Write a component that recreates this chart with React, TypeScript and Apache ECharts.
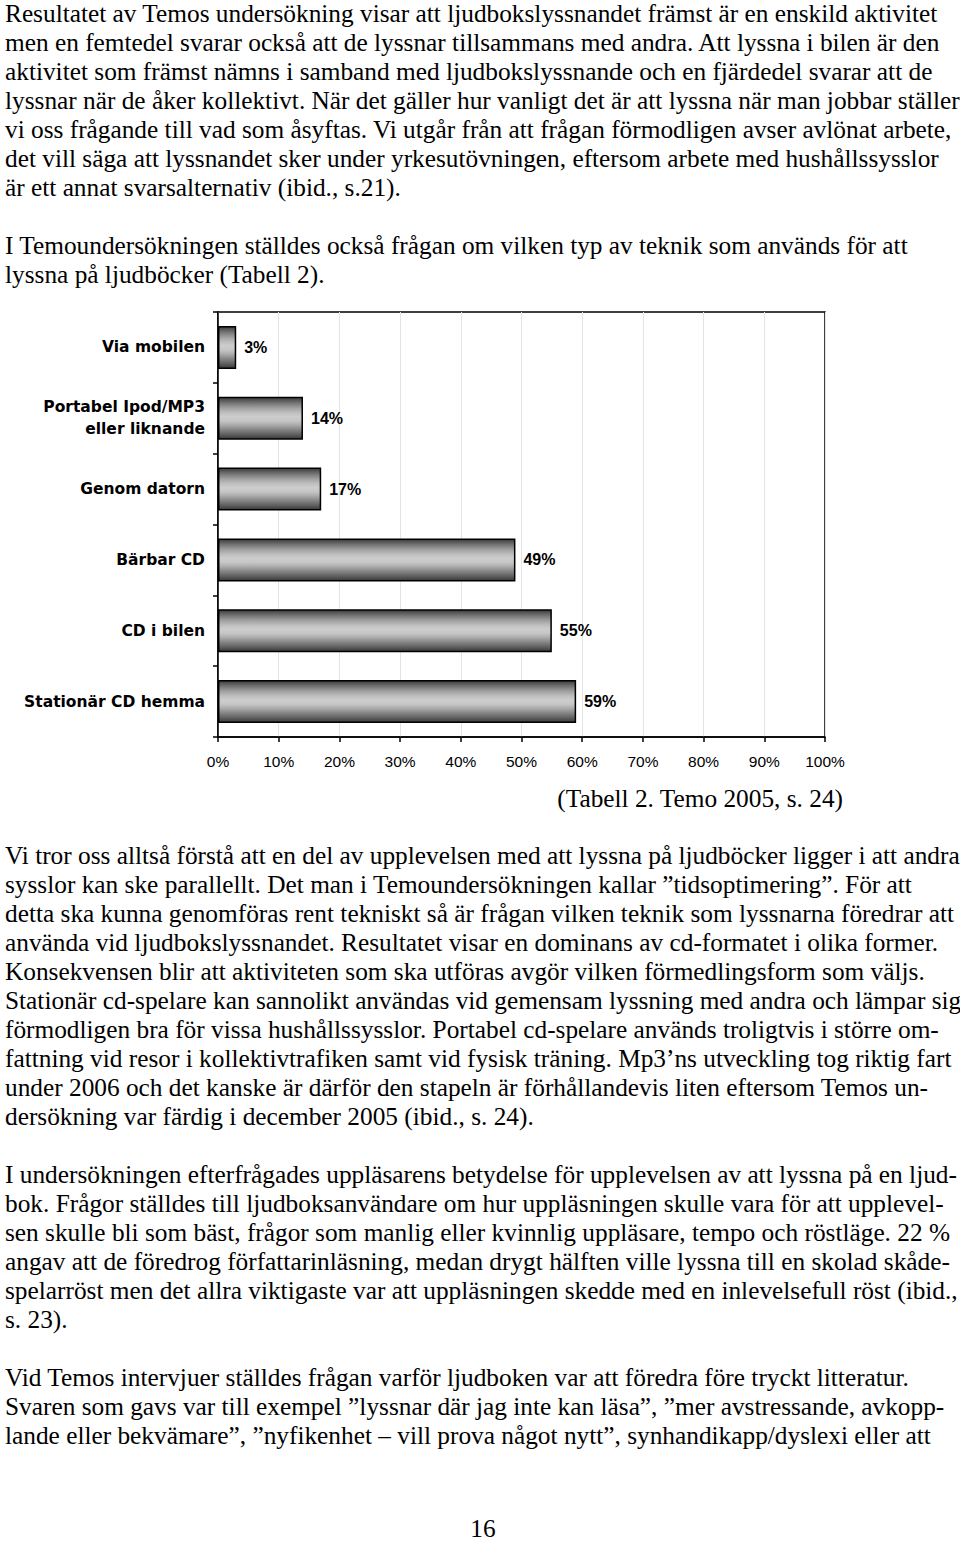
import React, { useEffect, useRef } from "react";
import * as echarts from "echarts";

// ---------- Chart data ----------
const categories = [
  "Via mobilen",
  "Portabel Ipod/MP3\neller liknande",
  "Genom datorn",
  "Bärbar CD",
  "CD i bilen",
  "Stationär CD hemma",
];
const shares = [3, 14, 17, 49, 55, 59];
const axisMin = 0;
const axisMax = 100;
const axisStep = 10;

// ---------- Page text ----------
const para1 = [
  "Resultatet av Temos undersökning visar att ljudbokslyssnandet främst är en enskild aktivitet",
  "men en femtedel svarar också att de lyssnar tillsammans med andra. Att lyssna i bilen är den",
  "aktivitet som främst nämns i samband med ljudbokslyssnande och en fjärdedel svarar att de",
  "lyssnar när de åker kollektivt. När det gäller hur vanligt det är att lyssna när man jobbar ställer",
  "vi oss frågande till vad som åsyftas. Vi utgår från att frågan förmodligen avser avlönat arbete,",
  "det vill säga att lyssnandet sker under yrkesutövningen, eftersom arbete med hushållssysslor",
  "är ett annat svarsalternativ (ibid., s.21).",
];
const para2 = [
  "I Temoundersökningen ställdes också frågan om vilken typ av teknik som används för att",
  "lyssna på ljudböcker (Tabell 2).",
];
const para3 = [
  "Vi tror oss alltså förstå att en del av upplevelsen med att lyssna på ljudböcker ligger i att andra",
  "sysslor kan ske parallellt. Det man i Temoundersökningen kallar ”tidsoptimering”. För att",
  "detta ska kunna genomföras rent tekniskt så är frågan vilken teknik som lyssnarna föredrar att",
  "använda vid ljudbokslyssnandet. Resultatet visar en dominans av cd-formatet i olika former.",
  "Konsekvensen blir att aktiviteten som ska utföras avgör vilken förmedlingsform som väljs.",
  "Stationär cd-spelare kan sannolikt användas vid gemensam lyssning med andra och lämpar sig",
  "förmodligen bra för vissa hushållssysslor. Portabel cd-spelare används troligtvis i större om-",
  "fattning vid resor i kollektivtrafiken samt vid fysisk träning. Mp3’ns utveckling tog riktig fart",
  "under 2006 och det kanske är därför den stapeln är förhållandevis liten eftersom Temos un-",
  "dersökning var färdig i december 2005 (ibid., s. 24).",
];
const para4 = [
  "I undersökningen efterfrågades uppläsarens betydelse för upplevelsen av att lyssna på en ljud-",
  "bok. Frågor ställdes till ljudboksanvändare om hur uppläsningen skulle vara för att upplevel-",
  "sen skulle bli som bäst, frågor som manlig eller kvinnlig uppläsare, tempo och röstläge. 22 %",
  "angav att de föredrog författarinläsning, medan drygt hälften ville lyssna till en skolad skåde-",
  "spelarröst men det allra viktigaste var att uppläsningen skedde med en inlevelsefull röst (ibid.,",
  "s. 23).",
];
const para5 = [
  "Vid Temos intervjuer ställdes frågan varför ljudboken var att föredra före tryckt litteratur.",
  "Svaren som gavs var till exempel ”lyssnar där jag inte kan läsa”, ”mer avstressande, avkopp-",
  "lande eller bekvämare”, ”nyfikenhet – vill prova något nytt”, synhandikapp/dyslexi eller att",
];
const sourceNote = "(Tabell 2. Temo 2005, s. 24)";
const pageNumber = "16";

// ---------- Layout ----------
const PAGE_W = 960;
const PAGE_H = 1543;
const SERIF = "Liberation Serif";
const SANS = "Liberation Sans";
const SANS_WIDE = "DejaVu Sans";
const BODY_SIZE = 25;
const LINE_GAP = 29;
const TEXT_LEFT = 5;
const paragraphs: { lines: string[]; top: number }[] = [
  { lines: para1, top: 14 },
  { lines: para2, top: 246 },
  { lines: para3, top: 856 },
  { lines: para4, top: 1175 },
  { lines: para5, top: 1378 },
];

function measure(text: string, font: string): number {
  const c = document.createElement("canvas");
  const ctx = c.getContext("2d");
  if (!ctx) return text.length * 10;
  ctx.font = font;
  return ctx.measureText(text).width;
}

export default function App() {
  const ref = useRef<HTMLDivElement>(null);

  useEffect(() => {
    if (!ref.current) return;
    const chart = echarts.init(ref.current, undefined, { renderer: "svg" });

    const sx = 933 / measure(para1[0], `${BODY_SIZE}px ${SERIF}`);

    const bodyStyle = (text: string, align: string) => ({
      text,
      fontFamily: SERIF,
      fontSize: BODY_SIZE,
      fill: "#000",
      align,
      verticalAlign: "middle",
    });

    const graphics: any[] = [];
    paragraphs.forEach((p) => {
      p.lines.forEach((line, i) => {
        graphics.push({
          type: "text",
          x: TEXT_LEFT,
          y: p.top + i * LINE_GAP,
          scaleX: sx,
          style: bodyStyle(line, "left"),
        });
      });
    });
    graphics.push({
      type: "text",
      x: 843,
      y: 799,
      scaleX: sx,
      style: bodyStyle(sourceNote, "right"),
    });
    graphics.push({
      type: "text",
      x: 483,
      y: 1529,
      scaleX: sx,
      style: bodyStyle(pageNumber, "center"),
    });

    const barFill = new echarts.graphic.LinearGradient(0, 0, 0, 1, [
      { offset: 0, color: "#3a3a3a" },
      { offset: 0.08, color: "#5e5e5e" },
      { offset: 0.16, color: "#7e7e7e" },
      { offset: 0.26, color: "#a2a2a2" },
      { offset: 0.36, color: "#bdbdbd" },
      { offset: 0.46, color: "#cdcdcd" },
      { offset: 0.56, color: "#c6c6c6" },
      { offset: 0.66, color: "#acacac" },
      { offset: 0.76, color: "#8a8a8a" },
      { offset: 0.86, color: "#6a6a6a" },
      { offset: 0.94, color: "#4e4e4e" },
      { offset: 1, color: "#383838" },
    ]);

    chart.setOption({
      animation: false,
      backgroundColor: "#fff",
      grid: {
        left: 218,
        top: 312,
        width: 607,
        height: 425,
        show: true,
        borderColor: "#000",
        borderWidth: 1.5,
        backgroundColor: "transparent",
      },
      xAxis: {
        type: "value",
        min: axisMin,
        max: axisMax,
        interval: axisStep,
        axisLine: { show: true, lineStyle: { color: "#000", width: 1.5 } },
        axisTick: { show: true, inside: false, length: 5, lineStyle: { color: "#000", width: 1.5 } },
        axisLabel: {
          formatter: "{value}%",
          color: "#000",
          fontFamily: SANS,
          fontSize: 15.5,
          margin: 16,
        },
        splitLine: { show: true, lineStyle: { color: "#e4e4e4", width: 1 } },
      },
      yAxis: {
        type: "category",
        data: categories,
        inverse: true,
        axisLine: { show: true, lineStyle: { color: "#000", width: 1.5 } },
        axisTick: { show: true, inside: false, length: 5, lineStyle: { color: "#000", width: 1.5 } },
        axisLabel: {
          color: "#000",
          fontFamily: SANS_WIDE,
          fontWeight: "bold",
          fontSize: 15.5,
          lineHeight: 22,
          margin: 13,
          align: "right",
        },
        splitLine: { show: false },
      },
      series: [
        {
          type: "bar",
          data: shares,
          barWidth: 43,
          itemStyle: { color: barFill, borderColor: "#000", borderWidth: 1.5 },
          label: {
            show: true,
            position: "right",
            distance: 8,
            formatter: "{c}%",
            color: "#000",
            fontFamily: SANS,
            fontWeight: "bold",
            fontSize: 16,
          },
        },
      ],
      graphic: graphics,
    });

    return () => chart.dispose();
  }, []);

  return (
    <div
      ref={ref}
      style={{ position: "absolute", left: 0, top: 0, width: PAGE_W, height: PAGE_H }}
    />
  );
}
